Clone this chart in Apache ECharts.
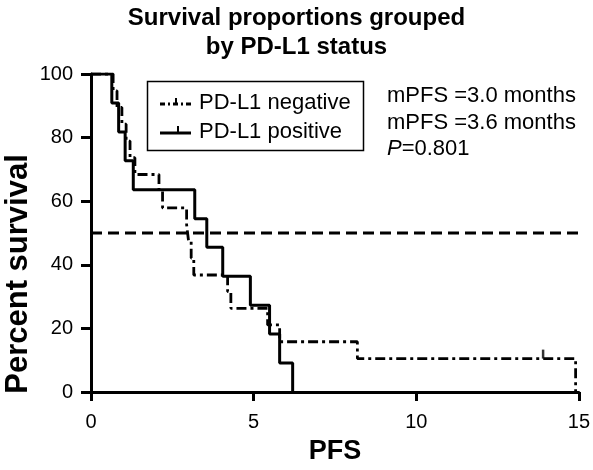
<!DOCTYPE html>
<html><head><meta charset="utf-8">
<script src="https://cdn.jsdelivr.net/npm/echarts@6/dist/echarts.min.js"></script>
<style>html,body{margin:0;padding:0;background:#fff}#c{width:593px;height:470px}</style>
</head><body><div id="c"></div>
<script>
// PD-L1 negative (n=19) Kaplan-Meier steps: [time, percent]
const negTimes = [0, 0.68, 0.8, 0.95, 1.08, 1.2, 1.35, 2.09, 2.2, 2.94, 3.0, 3.08, 3.16, 4.2, 4.3, 5.43, 5.8, 8.19, 14.9];
const negSurv  = [100, 94.7, 89.5, 84.2, 78.9, 73.7, 68.4, 63.2, 57.9, 52.6, 47.4, 42.1, 36.8, 31.6, 26.3, 21.1, 15.8, 10.5, 0];
// PD-L1 positive (n=11)
const posTimes = [0, 0.64, 0.85, 1.05, 1.3, 3.19, 3.56, 4.05, 4.9, 5.49, 5.8, 6.2];
const posSurv  = [100, 90.9, 81.8, 72.7, 63.6, 54.5, 45.5, 36.4, 27.3, 18.2, 9.1, 0];
// censored observations
const negCensorTimes = [13.9];
const negCensorSurv = [10.5];
// median reference line
const medianLevel = 50;
const xRange = [0, 15];
const yTicks = [0, 20, 40, 60, 80, 100];
const xTicks = [0, 5, 10, 15];
const legendNames = ['PD-L1 negative', 'PD-L1 positive'];
const annotations = ['mPFS =3.0 months', 'mPFS =3.6 months'];
const pValue = '0.801';

const F = 'Liberation Sans, Arial, Helvetica, sans-serif';
const zip = (a, b) => a.map((v, i) => [v, b[i]]);
const dashDot = [10, 4, 3, 4];

const chart = echarts.init(document.getElementById('c'), null, {renderer: 'canvas'});
chart.setOption({
  animation: false,
  backgroundColor: '#fff',
  title: {
    text: 'Survival proportions grouped\nby PD-L1 status',
    left: 'center', top: -1,
    textStyle: {fontFamily: F, fontWeight: 'bold', fontSize: 24, lineHeight: 29, color: '#000'}
  },
  grid: {left: 91, right: 14, top: 74, bottom: 71, containLabel: false},
  xAxis: {
    type: 'value', min: xRange[0], max: xRange[1], interval: 5,
    name: 'PFS', nameLocation: 'middle', nameGap: 46,
    nameTextStyle: {fontFamily: F, fontWeight: 'bold', fontSize: 27, color: '#000'},
    axisLine: {onZero: false, lineStyle: {color: '#000', width: 3}},
    axisTick: {length: 9, lineStyle: {color: '#000', width: 3}},
    axisLabel: {margin: 20, fontFamily: F, fontSize: 20, color: '#000',
      formatter: v => xTicks.includes(v) ? String(v) : ''},
    splitLine: {show: false}
  },
  yAxis: {
    type: 'value', min: 0, max: 100, interval: 20,
    axisLine: {show: true, lineStyle: {color: '#000', width: 3}},
    axisTick: {show: true, length: 10, lineStyle: {color: '#000', width: 3}},
    axisLabel: {margin: 18, fontFamily: F, fontSize: 20, color: '#000',
      formatter: v => yTicks.includes(v) ? String(v) : ''},
    splitLine: {show: false}
  },
  series: [
    {
      name: 'median', type: 'line', silent: true, symbol: 'none',
      data: xRange.map(x => [x, medianLevel]),
      lineStyle: {color: '#000', width: 2.8, type: [11, 6]}, z: 1
    },
    {
      name: legendNames[0], type: 'line', step: 'end', symbol: 'none',
      data: zip(negTimes, negSurv),
      lineStyle: {color: '#000', width: 2.8, type: dashDot}, z: 2
    },
    {
      name: legendNames[1], type: 'line', step: 'end', symbol: 'none',
      data: zip(posTimes, posSurv),
      lineStyle: {color: '#000', width: 3, type: 'solid'}, z: 3
    },
    {
      name: 'censor', type: 'scatter', symbol: 'rect', symbolSize: [2.5, 9], symbolOffset: [0, -4.5],
      data: zip(negCensorTimes, negCensorSurv),
      itemStyle: {color: '#000'}, z: 4
    }
  ],
  graphic: [
    {type: 'rect', shape: {x: 147.5, y: 81.5, width: 216, height: 69},
      style: {fill: '#fff', stroke: '#000', lineWidth: 1.5}, z: 10},
    {type: 'line', shape: {x1: 160, y1: 104, x2: 191, y2: 104},
      style: {stroke: '#000', lineWidth: 2.8, lineDash: [5, 3, 2, 3]}, z: 11},
    {type: 'line', shape: {x1: 176, y1: 104, x2: 176, y2: 98},
      style: {stroke: '#000', lineWidth: 2}, z: 11},
    {type: 'line', shape: {x1: 160, y1: 133, x2: 191, y2: 133},
      style: {stroke: '#000', lineWidth: 3}, z: 11},
    {type: 'line', shape: {x1: 178, y1: 133, x2: 178, y2: 126},
      style: {stroke: '#000', lineWidth: 2}, z: 11},
    {type: 'text', x: 199, y: 103, z: 11,
      style: {text: legendNames[0], font: '22px ' + F, fill: '#000', textVerticalAlign: 'middle'}},
    {type: 'text', x: 199, y: 132, z: 11,
      style: {text: legendNames[1], font: '22px ' + F, fill: '#000', textVerticalAlign: 'middle'}},
    {type: 'text', x: 387, y: 96, z: 11,
      style: {text: annotations[0], font: '22px ' + F, fill: '#000', textVerticalAlign: 'middle'}},
    {type: 'text', x: 387, y: 123, z: 11,
      style: {text: annotations[1], font: '22px ' + F, fill: '#000', textVerticalAlign: 'middle'}},
    {type: 'text', x: 387, y: 149, z: 11,
      style: {text: '{i|P}=' + pValue, font: '22px ' + F, fill: '#000', textVerticalAlign: 'middle',
        rich: {i: {fontStyle: 'italic', fontFamily: F, fontSize: 22, fill: '#000'}}}},
    {type: 'text', x: 18, y: 274, rotation: Math.PI / 2, z: 11,
      style: {text: 'Percent survival', font: 'bold 31px ' + F, fill: '#000',
        textAlign: 'center', textVerticalAlign: 'middle'}}
  ]
});
</script>
</body></html>
